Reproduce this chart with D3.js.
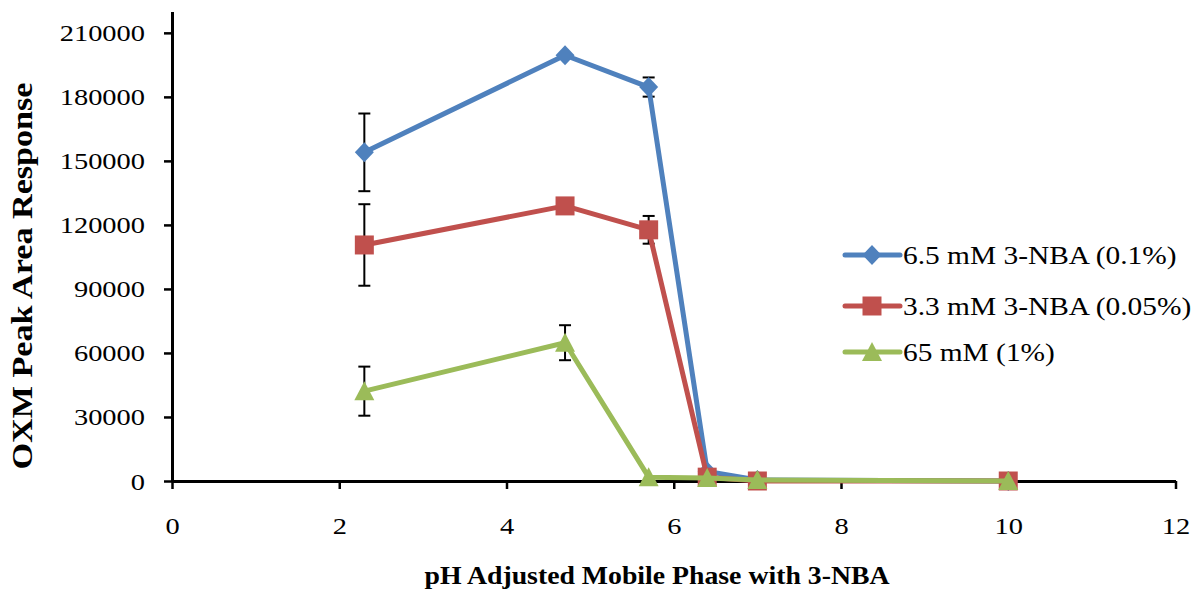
<!DOCTYPE html>
<html>
<head>
<meta charset="utf-8">
<script src="https://cdn.jsdelivr.net/npm/d3@7"></script>
<style>
  html, body { margin: 0; padding: 0; background: #fff; }
  svg { display: block; }
  text { font-family: "Liberation Serif", "Times New Roman", serif; fill: #000; }
</style>
</head>
<body>
<svg id="chart" width="1195" height="592"></svg>
<script>
// pH of the mobile phase
const phValues = [2.3, 4.7, 5.7, 6.4, 7, 10];

// OXM peak area response per ion-pair concentration
const nba65Values = [154000, 199500, 184600, 4500, 500, 0];
const nba65Errors = [18200, 0, 4500, 0, 0, 0];

const nba33Values = [110600, 128900, 117700, 1800, 0, 0];
const nba33Errors = [19100, 0, 6500, 0, 0, 0];

const mm65Values = [42100, 64800, 1800, 1400, 500, 0];
const mm65Errors = [11500, 8200, 0, 0, 0, 0];

const seriesNames = ["6.5 mM 3-NBA (0.1%)", "3.3 mM 3-NBA (0.05%)", "65 mM (1%)"];
const seriesColors = ["#4F81BD", "#C0504D", "#9BBB59"];
const seriesShapes = ["diamond", "square", "triangle"];

const xTicks = [0, 2, 4, 6, 8, 10, 12];
const yTicks = [0, 30000, 60000, 90000, 120000, 150000, 180000, 210000];

const xTitle = "pH Adjusted Mobile Phase with 3-NBA";
const yTitle = "OXM Peak Area Response";

const svg = d3.select("#chart");

const x = d3.scaleLinear().domain([0, 12]).range([172, 1175.5]);
const y = d3.scaleLinear().domain([0, 220000]).range([481, 11.5]);

// widen glyphs horizontally to the wide Times look of the figure
function widen(sel, k) {
  sel.each(function () {
    const w = this.getComputedTextLength();
    d3.select(this).attr("textLength", w * k).attr("lengthAdjust", "spacingAndGlyphs");
  });
}

// axes
const yAxis = svg.append("g")
  .attr("transform", `translate(${x(0)},0)`)
  .call(d3.axisLeft(y).tickValues(yTicks).tickFormat(d3.format("d"))
    .tickSize(8).tickSizeOuter(0).tickPadding(19));
const xAxis = svg.append("g")
  .attr("transform", `translate(0,${y(0)})`)
  .call(d3.axisBottom(x).tickValues(xTicks).tickFormat(d3.format("d"))
    .tickSize(8).tickSizeOuter(0).tickPadding(28));

[yAxis, xAxis].forEach(a => {
  a.select(".domain").attr("stroke", "#000").attr("stroke-width", 3);
  a.selectAll(".tick line").attr("stroke", "#000").attr("stroke-width", 2.5);
  a.selectAll(".tick text")
    .attr("font-size", 23.5)
    .attr("fill", "#000");
});
yAxis.selectAll(".tick text").attr("dy", "0.34em");
widen(yAxis.selectAll(".tick text"), 1.21);
widen(xAxis.selectAll(".tick text"), 1.21);

// marker outlines
function markerPath(shape, cx, cy) {
  const p = d3.path();
  if (shape === "diamond") {
    p.moveTo(cx, cy - 10); p.lineTo(cx + 9.5, cy); p.lineTo(cx, cy + 10); p.lineTo(cx - 9.5, cy);
  } else if (shape === "square") {
    p.rect(cx - 9.5, cy - 9.5, 19, 19);
  } else {
    p.moveTo(cx, cy - 10); p.lineTo(cx + 10, cy + 9); p.lineTo(cx - 10, cy + 9);
  }
  p.closePath();
  return p.toString();
}

const series = [
  { values: nba65Values, errors: nba65Errors },
  { values: nba33Values, errors: nba33Errors },
  { values: mm65Values, errors: mm65Errors }
];

const line = d3.line().x(d => x(d.ph)).y(d => y(d.v));

series.forEach((s, i) => {
  const pts = phValues.map((ph, j) => ({ ph, v: s.values[j], e: s.errors[j] }));
  const g = svg.append("g");

  // error bars
  const eb = g.selectAll(".err").data(pts.filter(d => d.e > 0)).join("g").attr("class", "err")
    .attr("stroke", "#000").attr("stroke-width", 2);
  eb.append("line")
    .attr("x1", d => x(d.ph)).attr("x2", d => x(d.ph))
    .attr("y1", d => y(d.v + d.e)).attr("y2", d => y(d.v - d.e));
  eb.append("line")
    .attr("x1", d => x(d.ph) - 6).attr("x2", d => x(d.ph) + 6)
    .attr("y1", d => y(d.v + d.e)).attr("y2", d => y(d.v + d.e));
  eb.append("line")
    .attr("x1", d => x(d.ph) - 6).attr("x2", d => x(d.ph) + 6)
    .attr("y1", d => y(d.v - d.e)).attr("y2", d => y(d.v - d.e));

  g.append("path").datum(pts)
    .attr("d", line)
    .attr("fill", "none")
    .attr("stroke", seriesColors[i])
    .attr("stroke-width", 5)
    .attr("stroke-linejoin", "round");

  g.selectAll(".mk").data(pts).join("path").attr("class", "mk")
    .attr("d", d => markerPath(seriesShapes[i], x(d.ph), y(d.v)))
    .attr("fill", seriesColors[i]);
});

// legend
const legendBase = [263.5, 314.5, 360.5];
const legend = svg.append("g");
seriesNames.forEach((name, i) => {
  const by = legendBase[i];
  const ly = by - 8.5;
  legend.append("line")
    .attr("x1", 845).attr("x2", 900).attr("y1", ly).attr("y2", ly)
    .attr("stroke", seriesColors[i]).attr("stroke-width", 5).attr("stroke-linecap", "round");
  legend.append("path")
    .attr("d", markerPath(seriesShapes[i], 872, ly))
    .attr("fill", seriesColors[i]);
  legend.append("text")
    .attr("x", 903).attr("y", by)
    .attr("font-size", 24.5)
    .text(name);
});
widen(legend.selectAll("text"), 1.2);

// axis titles
svg.append("text")
  .attr("x", 657).attr("y", 584)
  .attr("text-anchor", "middle")
  .attr("font-weight", "bold")
  .attr("font-size", 25)
  .attr("textLength", 465)
  .attr("lengthAdjust", "spacingAndGlyphs")
  .text(xTitle);

svg.append("text")
  .attr("transform", "translate(32,276) rotate(-90)")
  .attr("text-anchor", "middle")
  .attr("font-weight", "bold")
  .attr("font-size", 29)
  .attr("textLength", 387)
  .attr("lengthAdjust", "spacingAndGlyphs")
  .text(yTitle);
</script>
</body>
</html>
